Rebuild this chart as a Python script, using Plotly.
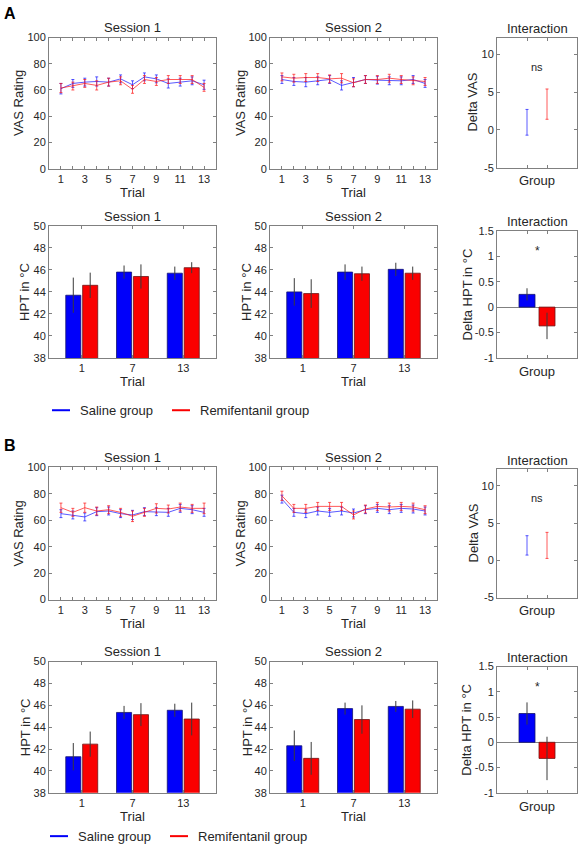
import plotly.graph_objects as go

FONT = "Liberation Sans, Arial, sans-serif"
W, H = 580, 852
TXT = "#262626"
AXC = "#808080"

# ---------------- data ----------------
trials = list(range(1, 14))
trial_ticktext = [str(t) if t % 2 else "" for t in trials]
hpt_trials = ["1", "7", "13"]
hpt_pos = [1, 2, 3]
group_names = ["Saline group", "Remifentanil group"]

# Panel A - VAS ratings
a_vas_s1_sal = [61, 65, 66, 66.5, 66, 68.5, 64, 70, 68.5, 65, 66, 67, 64]
a_vas_s1_sal_err = [4, 3, 3, 3.5, 3, 3, 3, 3, 3, 3.5, 3, 3, 3.5]
a_vas_s1_rem = [61.5, 63, 65, 63.5, 66, 67, 60.5, 68, 66.5, 68, 68, 68, 62]
a_vas_s1_rem_err = [3.5, 3, 3, 3.5, 3, 3, 3, 3, 3, 3, 3, 3, 3]
a_vas_s2_sal = [68, 66.5, 66, 67, 68, 63.5, 66, 68, 67.5, 67, 67, 68, 65]
a_vas_s2_sal_err = [3, 3, 3.5, 3, 3, 3.5, 3.5, 3, 3, 3, 3, 3, 3]
a_vas_s2_rem = [70, 69, 69.5, 69.5, 68.5, 69, 65.5, 68, 68, 69, 68, 67, 66.5]
a_vas_s2_rem_err = [3, 3, 3, 3, 3, 3.5, 3, 3, 3, 3, 3, 3, 3]
a_int_vas = [1.0, 3.4]
a_int_vas_err = [1.7, 2.0]

# Panel A - heat pain thresholds
a_hpt_s1_sal = [43.7, 45.8, 45.7]
a_hpt_s1_sal_err = [1.6, 0.6, 0.6]
a_hpt_s1_rem = [44.6, 45.4, 46.2]
a_hpt_s1_rem_err = [1.15, 1.1, 0.5]
a_hpt_s2_sal = [44.0, 45.8, 46.05]
a_hpt_s2_sal_err = [1.25, 0.7, 0.6]
a_hpt_s2_rem = [43.85, 45.65, 45.7]
a_hpt_s2_rem_err = [1.3, 0.65, 0.6]
a_int_hpt = [0.25, -0.37]
a_int_hpt_err = [0.12, 0.26]

# Panel B - VAS ratings
b_vas_s1_sal = [65, 64, 62.5, 66.5, 67, 65, 64, 66.5, 66.5, 66, 69, 68, 66]
b_vas_s1_sal_err = [3, 3, 3, 3, 3, 3, 3.5, 3, 3, 3, 3, 3, 3]
b_vas_s1_rem = [69.5, 66, 69.5, 67, 68, 66, 63, 66, 69, 68.5, 70, 69, 69]
b_vas_s1_rem_err = [3.5, 3, 3.5, 3, 3, 3, 4, 3, 3.5, 3, 3, 3, 4]
b_vas_s2_sal = [76, 66, 65, 67, 66, 67, 65.5, 68, 69, 68, 69, 68.5, 67]
b_vas_s2_sal_err = [3, 3, 3, 3, 3, 3, 3, 3, 3, 3, 3, 3, 3]
b_vas_s2_rem = [78.5, 69, 69, 70.5, 70.5, 70.5, 64, 68.5, 70.5, 70, 70.5, 70, 68]
b_vas_s2_rem_err = [3.5, 3, 3, 3, 3, 3, 3, 3, 3, 3, 3, 3, 3]
b_int_vas = [2.0, 2.0]
b_int_vas_err = [1.3, 1.75]

# Panel B - heat pain thresholds
b_hpt_s1_sal = [41.3, 45.35, 45.55]
b_hpt_s1_sal_err = [1.25, 0.6, 0.6]
b_hpt_s1_rem = [42.45, 45.15, 44.75]
b_hpt_s1_rem_err = [1.15, 1.05, 1.5]
b_hpt_s2_sal = [42.3, 45.7, 45.9]
b_hpt_s2_sal_err = [1.4, 0.55, 0.5]
b_hpt_s2_rem = [41.15, 44.7, 45.65]
b_hpt_s2_rem_err = [1.5, 1.3, 0.8]
b_int_hpt = [0.57, -0.32]
b_int_hpt_err = [0.22, 0.43]

# ---------------- styling ----------------
LINE_COL = ["rgba(20,20,255,0.7)", "rgba(255,20,20,0.7)"]
BAR_COL = ["rgb(0,0,250)", "rgb(250,0,0)"]
BAR_EDGE = ["rgb(20,20,110)", "rgb(110,20,20)"]


def px(x):
    return x / W


def py(y):
    return 1 - y / H


fig = go.Figure()

panels = [
    ("vas", "Session 1", (49, 216, 32, 165), 31, (a_vas_s1_sal, a_vas_s1_sal_err, a_vas_s1_rem, a_vas_s1_rem_err)),
    ("vas", "Session 2", (270, 437, 32, 165), 30, (a_vas_s2_sal, a_vas_s2_sal_err, a_vas_s2_rem, a_vas_s2_rem_err)),
    ("ivas", "Interaction", (497, 577, 32, 164), 24, (a_int_vas, a_int_vas_err)),
    ("hpt", "Session 1", (49, 216, 223, 357), 24, (a_hpt_s1_sal, a_hpt_s1_sal_err, a_hpt_s1_rem, a_hpt_s1_rem_err)),
    ("hpt", "Session 2", (270, 437, 223, 357), 23, (a_hpt_s2_sal, a_hpt_s2_sal_err, a_hpt_s2_rem, a_hpt_s2_rem_err)),
    ("ihpt", "Interaction", (497, 577, 228, 357), 30, (a_int_hpt, a_int_hpt_err)),
    ("vas", "Session 1", (49, 216, 468, 602), 31, (b_vas_s1_sal, b_vas_s1_sal_err, b_vas_s1_rem, b_vas_s1_rem_err)),
    ("vas", "Session 2", (270, 437, 468, 602), 30, (b_vas_s2_sal, b_vas_s2_sal_err, b_vas_s2_rem, b_vas_s2_rem_err)),
    ("ivas", "Interaction", (497, 577, 470, 600), 24, (b_int_vas, b_int_vas_err)),
    ("hpt", "Session 1", (49, 216, 665, 798), 24, (b_hpt_s1_sal, b_hpt_s1_sal_err, b_hpt_s1_rem, b_hpt_s1_rem_err)),
    ("hpt", "Session 2", (270, 437, 665, 798), 23, (b_hpt_s2_sal, b_hpt_s2_sal_err, b_hpt_s2_rem, b_hpt_s2_rem_err)),
    ("ihpt", "Interaction", (497, 577, 670, 798), 30, (b_int_hpt, b_int_hpt_err)),
]

YTITLES = {"vas": "VAS Rating", "hpt": "HPT in °C", "ivas": "Delta VAS", "ihpt": "Delta HPT in °C"}

layout = {}
annotations = []

tickfont = dict(family=FONT, size=11, color=TXT)
titlefont = dict(family=FONT, size=13, color=TXT)

for i, (kind, title, (x0, x1, yt, yb), yoff, data) in enumerate(panels):
    n = i + 1
    xa = f"x{n}" if n > 1 else "x"
    ya = f"y{n}" if n > 1 else "y"
    base = dict(showline=True, linecolor=AXC, linewidth=1, mirror="ticks",
                ticks="inside", ticklen=3, tickcolor=AXC, tickfont=tickfont,
                showgrid=False, zeroline=False, fixedrange=True)
    xdef = dict(base, domain=[px(x0), px(x1)], anchor=ya)
    ydef = dict(base, domain=[py(yb), py(yt)], anchor=xa)

    if kind == "vas":
        sal, sal_e, rem, rem_e = data
        for k, (vals, errs) in enumerate([(sal, sal_e), (rem, rem_e)]):
            fig.add_trace(go.Scatter(
                x=trials, y=vals, mode="lines", xaxis=xa, yaxis=ya,
                line=dict(color=LINE_COL[k], width=1),
                error_y=dict(type="data", array=errs, color=LINE_COL[k], thickness=1, width=1.5),
                showlegend=False, name=group_names[k]))
        xdef.update(range=[0, 14], tickvals=trials, ticktext=trial_ticktext,
                    title=dict(text="Trial", font=titlefont, standoff=2))
        ydef.update(range=[0, 100], tickvals=[0, 20, 40, 60, 80, 100])
    elif kind == "hpt":
        sal, sal_e, rem, rem_e = data
        offs = [-0.315, 0.018]
        for k, (vals, errs) in enumerate([(sal, sal_e), (rem, rem_e)]):
            fig.add_trace(go.Bar(
                x=hpt_pos, y=vals, xaxis=xa, yaxis=ya, width=0.297, offset=offs[k],
                marker=dict(color=BAR_COL[k], line=dict(color=BAR_EDGE[k], width=0.8)),
                error_y=dict(type="data", array=errs, color="#3a3a3a", thickness=1, width=0),
                showlegend=False, name=group_names[k]))
        xdef.update(range=[0.355, 3.645], tickvals=hpt_pos, ticktext=hpt_trials,
                    title=dict(text="Trial", font=titlefont, standoff=2))
        ydef.update(range=[38, 50], tickvals=[38, 40, 42, 44, 46, 48, 50])
    elif kind == "ivas":
        vals, errs = data
        for k in range(2):
            fig.add_trace(go.Scatter(
                x=[k + 1], y=[vals[k]], mode="markers", xaxis=xa, yaxis=ya,
                marker=dict(size=2, color="rgba(0,0,0,0)"),
                error_y=dict(type="data", array=[errs[k]], color=LINE_COL[k], thickness=1, width=1.5),
                showlegend=False, name=group_names[k]))
        xdef.update(range=[-0.5, 3.5], tickvals=[1, 2], ticktext=["", ""],
                    title=dict(text="Group", font=titlefont, standoff=6))
        ydef.update(range=[-5, 12.2], tickvals=[-5, 0, 5, 10], ticktext=["-5", "0", "5", "10"])
        annotations.append(dict(text="ns", x=1.5, y=8.3, xref=xa, yref=ya, showarrow=False,
                                font=dict(family=FONT, size=11, color=TXT)))
    else:  # ihpt
        vals, errs = data
        for k in range(2):
            fig.add_trace(go.Bar(
                x=[k + 1], y=[vals[k]], xaxis=xa, yaxis=ya, width=0.8, offset=-0.4,
                marker=dict(color=BAR_COL[k], line=dict(color=BAR_EDGE[k], width=0.8)),
                error_y=dict(type="data", array=[errs[k]], color="#3a3a3a", thickness=1, width=0),
                showlegend=False, name=group_names[k]))
        xdef.update(range=[-0.5, 3.5], tickvals=[1, 2], ticktext=["", ""],
                    title=dict(text="Group", font=titlefont, standoff=6))
        ydef.update(range=[-1, 1.5], tickvals=[-1, -0.5, 0, 0.5, 1, 1.5],
                    ticktext=["-1", "-0.5", "0", "0.5", "1", "1.5"],
                    zeroline=True, zerolinecolor=AXC, zerolinewidth=1)
        annotations.append(dict(text="*", x=1.5, y=1.1, xref=xa, yref=ya, showarrow=False,
                                font=dict(family=FONT, size=12, color=TXT)))

    layout["xaxis" if n == 1 else f"xaxis{n}"] = xdef
    layout["yaxis" if n == 1 else f"yaxis{n}"] = ydef

    annotations.append(dict(text=YTITLES[kind], x=px(x0 - yoff), y=py((yt + yb) / 2),
                            xref="paper", yref="paper", showarrow=False, textangle=-90,
                            xanchor="center", yanchor="middle", font=titlefont))
    ty = yt - 10 if kind in ("vas", "hpt") else yt - 9
    annotations.append(dict(text=title, x=px((x0 + x1) / 2), y=py(ty), xref="paper", yref="paper",
                            showarrow=False, xanchor="center", yanchor="middle",
                            font=dict(family=FONT, size=13, color=TXT)))

annotations.append(dict(text="<b>A</b>", x=px(2), y=py(8), xref="paper", yref="paper",
                        showarrow=False, xanchor="left", yanchor="middle",
                        font=dict(family=FONT, size=16, color="black")))
annotations.append(dict(text="<b>B</b>", x=px(2), y=py(446), xref="paper", yref="paper",
                        showarrow=False, xanchor="left", yanchor="middle",
                        font=dict(family=FONT, size=16, color="black")))

# legend keys under each panel
shapes = []
for ly, (bx0, rx0) in [(410, (52, 172)), (842, (50, 170))]:
    for k, lx in enumerate([bx0, rx0]):
        shapes.append(dict(type="line", xref="paper", yref="paper",
                           x0=px(lx), x1=px(lx + 18), y0=py(ly), y1=py(ly),
                           line=dict(color=BAR_COL[k], width=2)))
        annotations.append(dict(text=group_names[k], x=px(lx + 26), y=py(ly), xref="paper",
                                yref="paper", showarrow=False, xanchor="left", yanchor="middle",
                                font=dict(family=FONT, size=13, color=TXT)))

fig.update_layout(
    width=W, height=H,
    margin=dict(l=0, r=0, t=0, b=0),
    paper_bgcolor="white", plot_bgcolor="white",
    barmode="overlay",
    annotations=annotations, shapes=shapes,
    showlegend=False,
    **layout,
)

fig.write_html("out.html", config={"displayModeBar": False},
               post_script="document.body.style.margin='0px';document.documentElement.style.overflow='hidden';")
